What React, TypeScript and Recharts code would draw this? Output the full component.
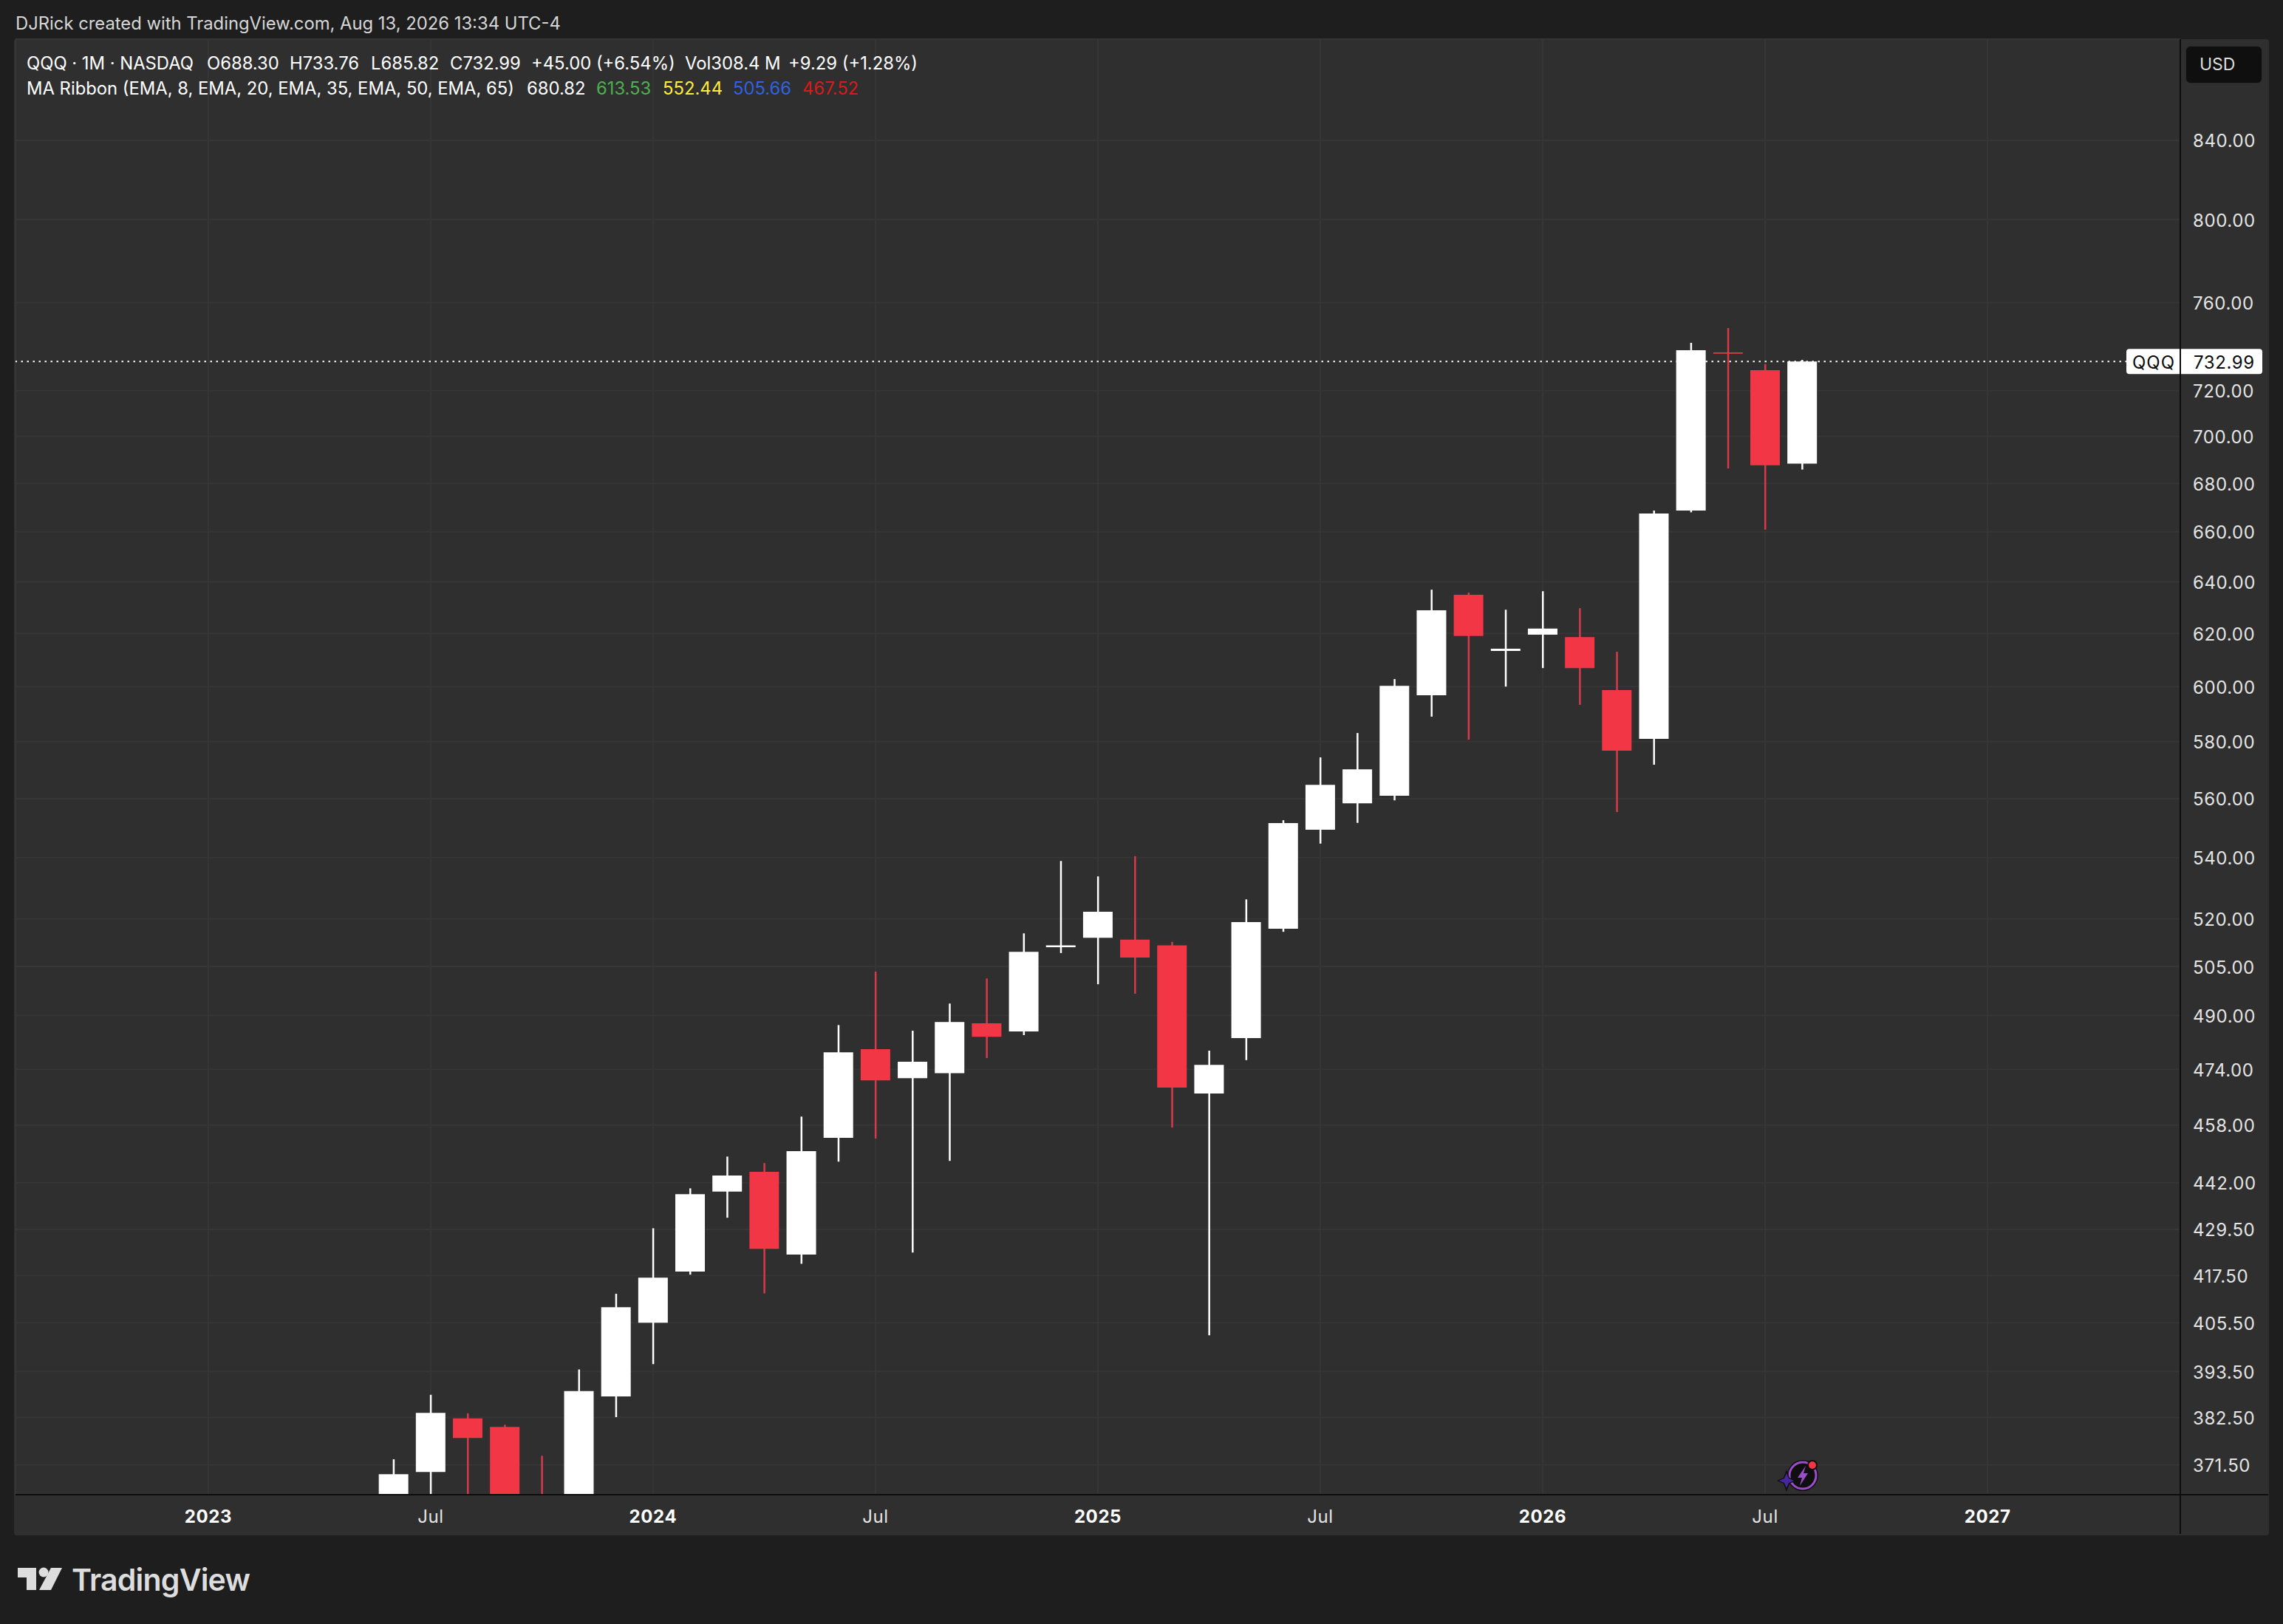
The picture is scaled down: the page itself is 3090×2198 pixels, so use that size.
import { Bar, BarChart, CartesianGrid, Cell, ReferenceLine, XAxis, YAxis } from "recharts";

// months since Jan 2023
const months = [5, 6, 7, 8, 9, 10, 11, 12, 13, 14, 15, 16, 17, 18, 19, 20, 21, 22, 23, 24, 25, 26, 27, 28, 29, 30, 31, 32, 33, 34, 35, 36, 37, 38, 39, 40, 41, 42, 43];
const opens = [348, 369.9, 382.3, 380.3, 362, 354, 387.5, 405.5, 418.5, 439.6, 445, 422.9, 454.4, 479.9, 471.4, 472.9, 487.6, 485.2, 511, 514, 513.4, 511.6, 467, 483.2, 516.9, 549.4, 558.4, 561, 596.8, 634.9, 613.3, 619.5, 618.6, 598.7, 581, 668.7, 737.1, 729.1, 688.3];
const highs = [372.8, 387.9, 383.5, 380.8, 373.6, 394, 412.8, 429.8, 440.5, 449.2, 447.4, 460.4, 487.1, 503.4, 485.4, 493.6, 501.3, 515.4, 538.9, 533.8, 540.5, 512.7, 479.5, 526.3, 552.6, 574.4, 583.1, 602.8, 636.9, 635.8, 629.1, 636.3, 629.7, 613, 668.7, 741.5, 748.3, 731.8, 733.76];
const lows = [345, 362, 355, 351, 343, 350, 382.6, 395.3, 417.7, 432.6, 412.9, 420.5, 447.8, 454.2, 423.4, 448, 477.3, 484.1, 509.2, 499.5, 496.6, 457.3, 402.4, 476.7, 515.9, 544.7, 551.7, 559.4, 589, 580.7, 600, 606.9, 593.3, 555.4, 571.8, 668, 686.3, 660.9, 685.82];
const closes = [369.4, 383.6, 377.7, 358, 354, 388.8, 409.4, 416.9, 438.9, 444, 424.4, 450.7, 479, 470.8, 476.2, 488, 483.6, 509.6, 511.6, 522.3, 507.8, 468.7, 475.3, 519, 551.6, 564.8, 570.2, 600.3, 628.9, 619, 614.2, 621.8, 606.9, 576.8, 667.5, 738.1, 736.5, 687.6, 732.99];

const priceTicks = [840, 800, 760, 720, 700, 680, 660, 640, 620, 600, 580, 560, 540, 520, 505, 490, 474, 458, 442, 429.5, 417.5, 405.5, 393.5, 382.5, 371.5];
const timeTicks = [0, 6, 12, 18, 24, 30, 36, 42, 48];
const timeLabels = ["2023", "Jul", "2024", "Jul", "2025", "Jul", "2026", "Jul", "2027"];

const lastPrice = 732.99;
const UP = "#ffffff";
const DOWN = "#f23645";
const DOWN_WICK = "#d8394b";
const FONT = "Inter, 'Liberation Sans', sans-serif";

const candles = months.map((m, i) => ({
  m,
  wick: [lows[i], highs[i]],
  body: [Math.min(opens[i], closes[i]), Math.max(opens[i], closes[i])],
  up: closes[i] >= opens[i],
}));

const legendTop = [
  ["QQQ · 1M · NASDAQ", 36],
  ["O688.30", 280],
  ["H733.76", 392],
  ["L685.82", 502],
  ["C732.99", 609],
  ["+45.00 (+6.54%)", 719],
  ["Vol308.4 M", 927],
  ["+9.29 (+1.28%)", 1067],
] as const;

const legendBottom = [
  ["MA Ribbon (EMA, 8, EMA, 20, EMA, 35, EMA, 50, EMA, 65)", 36, "#ffffff"],
  ["680.82", 713, "#ffffff"],
  ["613.53", 807, "#4caf50"],
  ["552.44", 897, "#ffeb3b"],
  ["505.66", 992, "#2f62e0"],
  ["467.52", 1086, "#d81a1a"],
] as const;

const TimeTick = ({ x, y, payload }: any) => {
  const label = timeLabels[timeTicks.indexOf(payload.value)];
  const isYear = label !== "Jul";
  return (
    <text x={x} y={y + 21} textAnchor="middle" dominantBaseline="central" fontFamily={FONT} fontSize={24} letterSpacing={0.6} fontWeight={isYear ? 700 : 400} fill={isYear ? "#ffffff" : "#e4e4e4"}>
      {label}
    </text>
  );
};

const PriceTag = ({ viewBox }: any) => {
  const right = viewBox.x + viewBox.width;
  const y = viewBox.y;
  return (
    <g>
      <rect x={right - 73} y={y - 17} width={184} height={34} rx={4} fill="#ffffff" />
      <text x={right - 36} y={y + 1} textAnchor="middle" dominantBaseline="central" fontFamily={FONT} fontSize={24} letterSpacing={1} fill="#0a0a0a">QQQ</text>
      <text x={right + 18} y={y + 1} dominantBaseline="central" fontFamily={FONT} fontSize={24} letterSpacing={0.6} fill="#0a0a0a">{lastPrice.toFixed(2)}</text>
    </g>
  );
};

const Label = ({ x, y, color, size = 23.8, children }: any) => (
  <div style={{ position: "absolute", left: x, top: y - 20, height: 40, lineHeight: "40px", whiteSpace: "pre", color, fontSize: size, fontFamily: FONT }}>
    {children}
  </div>
);

export default function App() {
  return (
    <div style={{ position: "absolute", left: 0, top: 0, width: 3090, height: 2198, background: "#1e1e1e", overflow: "hidden" }}>
      <div style={{ position: "absolute", left: 19, top: 53, width: 3052, height: 2025, background: "#2f2f2f", borderRadius: 4 }} />

      <div style={{ position: "absolute", left: 0, top: 0 }}>
        <BarChart width={3090} height={2198} data={candles} margin={{ top: 53, right: 0, bottom: 0, left: 21 }}>
          <CartesianGrid stroke="#363636" strokeWidth={2} />
          <XAxis type="number" dataKey="m" domain={[-5.2, 53.2]} ticks={timeTicks} interval={0} height={175} allowDataOverflow axisLine={false} tickLine={false} tick={<TimeTick />} />
          <XAxis xAxisId="wick" type="number" dataKey="m" domain={[-5.2, 53.2]} hide allowDataOverflow />
          <YAxis orientation="right" width={139} scale="log" domain={[364.75, 894]} allowDataOverflow ticks={priceTicks} interval={0} axisLine={false} tickLine={false} tickFormatter={(v: number) => v.toFixed(2)} tick={{ fill: "#e4e4e4", fontSize: 24, fontFamily: FONT, letterSpacing: 0.6, textAnchor: "start", dx: 9, dy: 1 }} />
          <Bar xAxisId="wick" dataKey="wick" barSize={2.5} isAnimationActive={false}>
            {candles.map((c) => <Cell key={c.m} fill={c.up ? UP : DOWN_WICK} />)}
          </Bar>
          <Bar dataKey="body" barSize={40} isAnimationActive={false}>
            {candles.map((c) => <Cell key={c.m} fill={c.up ? UP : DOWN} />)}
          </Bar>
          <ReferenceLine y={lastPrice} stroke="#ffffff" strokeWidth={2} strokeDasharray="2.5 5.5" label={<PriceTag />} />
        </BarChart>
      </div>

      {/* axis frame */}
      <div style={{ position: "absolute", left: 2950, top: 53, width: 2, height: 2023, background: "#0d0d0d" }} />
      <div style={{ position: "absolute", left: 21, top: 2022, width: 3049, height: 2, background: "#0d0d0d" }} />

      <Label x={21} y={32} color="#d6d6d6">DJRick created with TradingView.com, Aug 13, 2026 13:34 UTC-4</Label>
      {legendTop.map(([text, x]) => <Label key={text} x={x} y={86} color="#ffffff">{text}</Label>)}
      {legendBottom.map(([text, x, color]) => <Label key={text} x={x} y={120} color={color}>{text}</Label>)}

      <div style={{ position: "absolute", left: 2958, top: 62, width: 104, height: 51, background: "#0f0f0f", borderRadius: 7, border: "1px solid #2a2a2a", boxSizing: "border-box", color: "#dddddd", fontFamily: FONT, fontSize: 23, lineHeight: "49px", paddingLeft: 18 }}>USD</div>

      {/* news badge */}
      <svg style={{ position: "absolute", left: 2400, top: 1970, width: 70, height: 55 }} viewBox="0 0 70 55">
        <circle cx={40} cy={27} r={21} fill="#0f0f0f" />
        <circle cx={40} cy={27} r={18} fill="none" stroke="#9c4dcc" strokeWidth={3} />
        <polygon points="44,14 33,30 39,30 36,41 47,24 41,24" fill="#9c4dcc" />
        <circle cx={53} cy={13} r={7} fill="#0f0f0f" />
        <circle cx={53} cy={13} r={5} fill="#f23645" />
        <polygon points="18,19 22,30 31,34 22,38 18,49 14,38 5,34 14,30" fill="#0f0f0f" />
        <polygon points="18,24 21,31 28,34 21,37 18,44 15,37 8,34 15,31" fill="#4527a0" />
      </svg>

      {/* logo */}
      <svg style={{ position: "absolute", left: 20, top: 2118, width: 70, height: 40 }} viewBox="0 0 70 40">
        <polygon points="4,4 29,4 29,34 16,34 16,17 4,17" fill="#dddddd" />
        <circle cx={39} cy={10} r={6.5} fill="#dddddd" />
        <polygon points="49,4 64,4 49,34 33,34" fill="#dddddd" />
      </svg>
      <div style={{ position: "absolute", left: 97, top: 2113, height: 50, lineHeight: "50px", color: "#dddddd", fontFamily: FONT, fontSize: 41, fontWeight: 600, letterSpacing: -0.8 }}>TradingView</div>
    </div>
  );
}
